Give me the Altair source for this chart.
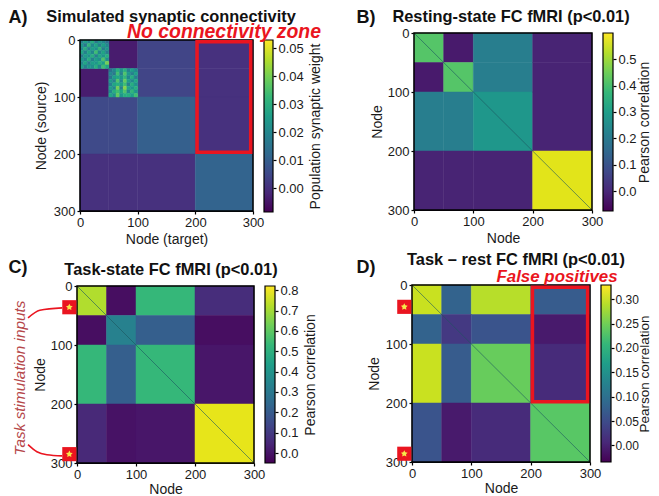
import altair as alt
import pandas as pd

# ---- data ----
edges = [0, 50, 100, 200, 300]
vals_a = [[None, -0.004, 0.004, 0.0],
          [-0.004, None, 0.004, 0.0],
          [0.005, 0.005, 0.010, 0.0],
          [0.0, 0.0, 0.0, 0.011]]
# coarse estimate of the two speckled modules of panel A (8 x 8 cells each)
mod_a1 = [[.018, .026, .020, .030, .016, .024, .020, .014],
          [.024, .016, .032, .020, .028, .018, .026, .020],
          [.020, .030, .018, .026, .022, .032, .018, .024],
          [.028, .018, .028, .020, .034, .020, .028, .018],
          [.016, .026, .022, .030, .018, .028, .024, .030],
          [.024, .020, .030, .018, .026, .022, .036, .022],
          [.020, .028, .018, .026, .024, .030, .026, .040],
          [.026, .018, .024, .022, .030, .020, .034, .028]]
mod_a2 = [[.014, .020, .030, .022, .030, .018, .026, .020],
          [.020, .016, .034, .018, .036, .024, .018, .026],
          [.016, .026, .028, .024, .032, .020, .030, .018],
          [.024, .018, .036, .020, .038, .026, .020, .028],
          [.018, .028, .030, .026, .034, .018, .030, .022],
          [.026, .020, .040, .018, .042, .028, .024, .030],
          [.020, .030, .034, .028, .036, .020, .032, .024],
          [.028, .022, .038, .024, .030, .030, .026, .034]]
vals_b = [[0.42, -0.03, 0.21, -0.01],
          [-0.03, 0.42, 0.21, -0.01],
          [0.21, 0.21, 0.28, -0.01],
          [-0.01, -0.01, -0.01, 0.57]]
vals_c = [[0.72, -0.02, 0.53, 0.06],
          [-0.02, 0.33, 0.21, -0.02],
          [0.53, 0.21, 0.53, 0.0],
          [0.05, -0.01, 0.0, 0.79]]
vals_d = [[0.30, 0.08, 0.29, 0.07],
          [0.08, 0.025, 0.06, -0.01],
          [0.30, 0.07, 0.245, 0.01],
          [0.06, -0.01, 0.01, 0.235]]
node_ticks = [0, 100, 200, 300]
ticks_a = [0.0, 0.01, 0.02, 0.03, 0.04, 0.05]
ticks_b = [0.0, 0.1, 0.2, 0.3, 0.4, 0.5]
ticks_c = [0.0, 0.1, 0.2, 0.3, 0.4, 0.5, 0.6, 0.7, 0.8]
ticks_d = [0.0, 0.05, 0.10, 0.15, 0.20, 0.25, 0.30]
viridis = ["#440154", "#482878", "#3e4989", "#31688e", "#26828e",
           "#1f9e89", "#35b779", "#6ece58", "#b5de2b", "#fde725"]

W, H = 643, 488
M = 8
FONT = "Liberation Sans"
TXT = "#1a1a1a"
RED = "#ea1520"


def blocks(vals):
    rows = []
    for i in range(4):
        for j in range(4):
            if vals[i][j] is not None:
                rows.append(dict(x=edges[j], x2=edges[j + 1], y=edges[i], y2=edges[i + 1], v=vals[i][j]))
    return rows


def module(grid, x0, y0, step=6.25):
    rows = []
    for i, row in enumerate(grid):
        for j, v in enumerate(row):
            rows.append(dict(x=x0 + j * step, x2=x0 + (j + 1) * step,
                             y=y0 + i * step, y2=y0 + (i + 1) * step, v=v))
    return rows


def scales(box):
    l, r, t, b = box
    return (alt.Scale(domain=[0, 300], range=[l - M, r - M], nice=False, zero=False),
            alt.Scale(domain=[0, 300], range=[t - M, b - M], nice=False, zero=False))


def node_axes(box, xt, yt, ypad, xpad):
    l, r, t, b = box
    common = dict(values=node_ticks, grid=False, labelFont=FONT, titleFont=FONT, labelFontSize=13,
                  titleFontSize=14, titleFontWeight="normal", labelColor=TXT, titleColor=TXT,
                  tickColor="black", domainColor="black", tickSize=3, tickWidth=1.2,
                  labelFlush=False, labelOverlap=False, format="d", labelPadding=2)
    ax = alt.Axis(orient="bottom", offset=b - M - H, title=xt, titlePadding=xpad, **common)
    ay = alt.Axis(orient="left", offset=-(l - M), title=yt, titlePadding=ypad, **common)
    return ax, ay


def heat(rows, box, dom, xt, yt, ypad=4, xpad=3):
    sx, sy = scales(box)
    ax, ay = node_axes(box, xt, yt, ypad, xpad)
    return alt.Chart(pd.DataFrame(rows)).mark_rect(strokeWidth=0.5).encode(
        x=alt.X("x:Q", scale=sx, axis=ax),
        x2="x2:Q",
        y=alt.Y("y:Q", scale=sy, axis=ay),
        y2="y2:Q",
        color=alt.Color("v:Q", scale=alt.Scale(scheme="viridis", domain=dom), legend=None),
        stroke=alt.Stroke("v:Q", scale=alt.Scale(scheme="viridis", domain=dom), legend=None),
    )


def box_rect(box, x0, x1, y0, y1, stroke, sw):
    sx, sy = scales(box)
    df = pd.DataFrame([dict(x=x0, x2=x1, y=y0, y2=y1)])
    return alt.Chart(df).mark_rect(fillOpacity=0, stroke=stroke, strokeWidth=sw).encode(
        x=alt.X("x:Q", scale=sx, axis=None), x2="x2:Q",
        y=alt.Y("y:Q", scale=sy, axis=None), y2="y2:Q")


def diag(box):
    sx, sy = scales(box)
    df = pd.DataFrame(dict(x=[0, 300], y=[0, 300]))
    return alt.Chart(df).mark_line(stroke="#1d5560", strokeWidth=0.8, opacity=0.75).encode(
        x=alt.X("x:Q", scale=sx, axis=None), y=alt.Y("y:Q", scale=sy, axis=None))


def cbar(xl, xr, t, b, dom, ticks, fmt, title, pad=5, lab=13, tit=14, lpad=2):
    sy = alt.Scale(domain=dom, range=[b - M, t - M], nice=False, zero=False)
    df = pd.DataFrame([dict(a=dom[0], b=dom[1])])
    grad = alt.Gradient(gradient="linear", x1=0, x2=0, y1=1, y2=0,
                        stops=[alt.GradientStop(offset=i / 9, color=c) for i, c in enumerate(viridis)])
    ay = alt.Axis(orient="right", offset=xr - M - W, values=ticks, format=fmt, title=title, grid=False,
                  labelFont=FONT, titleFont=FONT, labelFontSize=lab, titleFontSize=tit,
                  titleFontWeight="normal", labelColor=TXT, titleColor=TXT, tickColor="black",
                  domain=False, tickSize=3, tickWidth=1.2, labelFlush=False, labelOverlap=False,
                  titlePadding=pad, labelPadding=lpad, titleAngle=270, titleBaseline="top")
    return alt.Chart(df).mark_rect(fill=grad, stroke="black", strokeWidth=1.2).encode(
        x=alt.value(xl - M), x2=alt.value(xr - M),
        y=alt.Y("a:Q", scale=sy, axis=ay), y2="b:Q")


def text(s, x, y, size, bold=True, italic=False, color="#111111", angle=0, align="center"):
    kw = dict(text=s, font=FONT, fontSize=size, color=color, align=align, baseline="middle")
    if bold:
        kw["fontWeight"] = "bold"
    if italic:
        kw["fontStyle"] = "italic"
    if angle:
        kw["angle"] = angle
    return alt.Chart(pd.DataFrame(dict(a=[0]))).mark_text(**kw).encode(
        x=alt.value(x - M), y=alt.value(y - M))


STAR = ("M0,-1L0.3,-0.42L0.95,-0.31L0.49,0.16L0.59,0.81L0,0.52L-0.59,0.81L-0.49,0.16"
        "L-0.95,-0.31L-0.3,-0.42Z")


def stim(box, xs, ys):
    sx, sy = scales(box)
    df = pd.DataFrame(dict(x=xs, y=ys))
    sq = alt.Chart(df).mark_point(shape="square", size=200, filled=True, color=RED, opacity=1).encode(
        x=alt.X("x:Q", scale=sx, axis=None), y=alt.Y("y:Q", scale=sy, axis=None))
    st = alt.Chart(df).mark_point(shape=STAR, size=50, filled=True, color="#f6e94a", opacity=1).encode(
        x=alt.X("x:Q", scale=sx, axis=None), y=alt.Y("y:Q", scale=sy, axis=None))
    return [sq, st]


def curve(box, xs, ys):
    sx, sy = scales(box)
    df = pd.DataFrame(dict(x=xs, y=ys, o=range(len(xs))))
    return alt.Chart(df).mark_line(stroke=RED, strokeWidth=1.6, interpolate="monotone").encode(
        x=alt.X("x:Q", scale=sx, axis=None), y=alt.Y("y:Q", scale=sy, axis=None), order="o:Q")


A = (80, 253, 40, 211)
B = (414, 592, 33, 210)
C = (77, 254, 286, 463)
D = (412, 590, 285, 462)

rows_a = blocks(vals_a) + module(mod_a1, 0, 0) + module(mod_a2, 50, 50)

layers = [
    heat(rows_a, A, [-0.0085, 0.053], "Node (target)", "Node (source)", 5),
    box_rect(A, 0, 300, 0, 300, "black", 1.5),
    box_rect(A, 203, 296, 3, 197, RED, 3.5),
    cbar(264, 273, 40, 212, [-0.0085, 0.053], ticks_a, ".2f", "Population synaptic weight"),

    heat(blocks(vals_b), B, [-0.075, 0.599], "Node", "Node", 3),
    diag(B),
    box_rect(B, 0, 300, 0, 300, "black", 1.5),
    cbar(603, 613, 33, 211, [-0.075, 0.599], ticks_b, ".1f", "Pearson correlation", 1),

    heat(blocks(vals_c), C, [-0.049, 0.821], "Node", "Node", 3, 1),
    diag(C),
    box_rect(C, 0, 300, 0, 300, "black", 1.5),
    cbar(265, 275, 286, 463, [-0.049, 0.821], ticks_c, ".1f", "Pearson correlation"),

    heat(blocks(vals_d), D, [-0.034, 0.329], "Node", "Node", 4, 1),
    diag(D),
    box_rect(D, 0, 300, 0, 300, "black", 1.5),
    box_rect(D, 203, 296, 4, 198, RED, 3.5),
    cbar(601, 611, 285, 462, [-0.034, 0.329], ticks_d, ".2f", "Pearson correlation", -1, 12, 13.5, 1),
]
layers += [curve(C, [-83, -63, -25], [54, 41, 37]),
           curve(C, [-83, -68, -51, -25], [269, 281, 286, 288])]
layers += stim(C, [-13, -13], [36, 285])
layers += stim(D, [-13, -13], [37, 286])
layers += [
    text("A)", 18, 17.5, 18),
    text("B)", 366, 17.5, 18),
    text("C)", 18, 268, 18),
    text("D)", 366, 268, 18),
    text("Simulated synaptic connectivity", 171, 16.5, 16.4),
    text("Resting-state FC fMRI (p<0.01)", 511, 16.5, 16.4),
    text("Task-state FC fMRI (p<0.01)", 171, 270, 16.4),
    text("Task \u2013 rest FC fMRI (p<0.01)", 516, 259.5, 16.4),
    text("No connectivity zone", 224, 32, 19.4, italic=True, color=RED),
    text("False positives", 557, 277, 16.9, italic=True, color=RED),
    text("Task stimulation inputs", 20, 378, 15.4, bold=False, italic=True, color="#b5474a", angle=270),
]

chart = alt.layer(*layers).resolve_scale(
    x="independent", y="independent", color="independent", stroke="independent"
).properties(
    width=W, height=H, padding=0, autosize=alt.AutoSizeParams(type="none")
).configure_view(stroke=None)

chart.save("out.html", embed_options={"renderer": "svg", "actions": False})
